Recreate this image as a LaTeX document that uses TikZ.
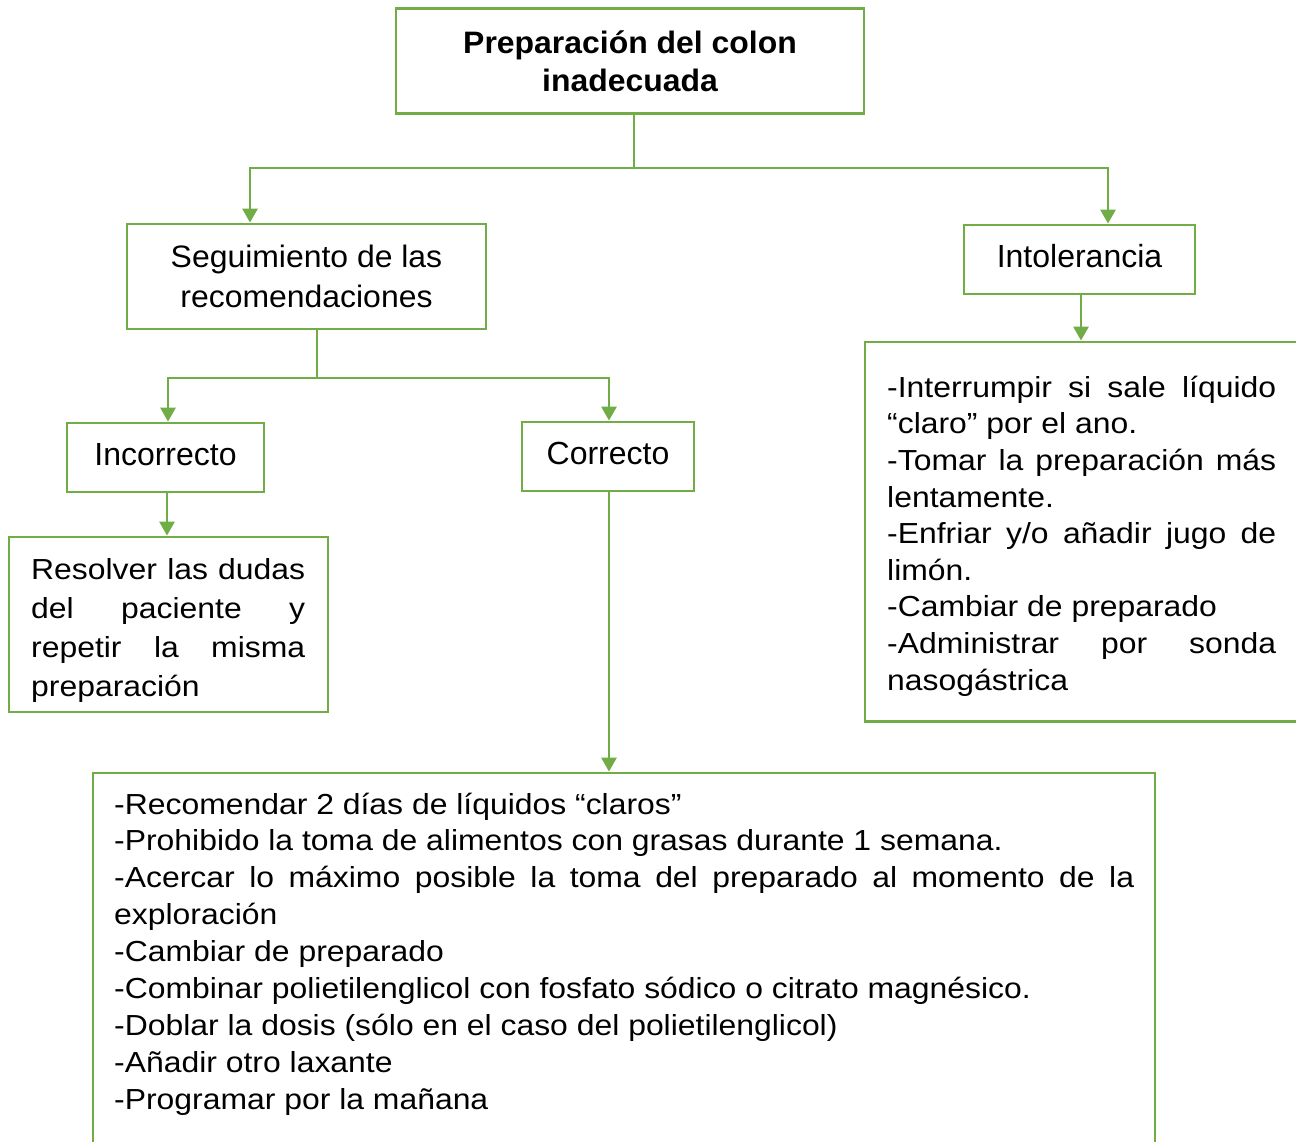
\documentclass[tikz,border=0pt]{standalone}
\usepackage{fontspec}
\setmainfont{Liberation Sans}
\newfontfamily\headfont{Liberation Sans}[FakeStretch=1.03]
\newfontfamily\listfont{Liberation Sans}[FakeStretch=1.1]
\usetikzlibrary{arrows.meta}
\definecolor{leaf}{HTML}{70AD47}
% one full-width line with its spaces stretched, and one set flush left
\newcommand\spreadline[1]{\makebox[\linewidth][s]{#1}\par}
\newcommand\plainline[1]{\makebox[\linewidth][l]{#1}\par}

\begin{document}
\begin{tikzpicture}[x=1pt,y=-1pt,
  box/.style={draw=leaf, line width=2.8pt, rectangle, inner sep=0pt,
    align=center, font=\fontsize{32}{38}\selectfont},
  onebox/.style={box, minimum height=69pt, text height=22pt, text depth=7pt},
  link/.style={draw=leaf, line width=2.8pt, line cap=rect},
  arr/.style={draw=leaf, line width=2.8pt, -{Triangle[length=14pt,width=15pt]}},
  listtext/.style={anchor=base west, inner sep=0pt},
]
\useasboundingbox (0,0) rectangle (1296,1142);
\clip (0,0) rectangle (1296,1142);

% boxes
\node[box, minimum width=468pt, minimum height=105pt,
      font=\fontsize{31}{38.4}\headfont\bfseries] (title) at (630,61)
  {Preparación del colon\\inadecuada};
\node[box, minimum width=359pt, minimum height=105pt,
      font=\fontsize{31}{39.3}\headfont] (seg) at (306.5,276.5)
  {Seguimiento de las\\recomendaciones};
\node[onebox, minimum width=231pt] (intol) at (1079.5,259.5) {Intolerancia};
\node[onebox, minimum width=197pt] (inc) at (165.5,457.5) {Incorrecto};
\node[onebox, minimum width=172pt] (cor) at (608,456.5) {Correcto};
\node[box, minimum width=319pt, minimum height=175pt] (resolvebox) at (168.5,624.5) {};
\node[box, minimum width=445pt, minimum height=379.5pt] (intollist) at (1087.5,531.75) {};
\node[box, minimum width=1062pt, minimum height=397pt] (corlist) at (624,971.5) {};

% texts of the list boxes
\node[listtext] (resolvetext) at (31,579.3) {\begin{minipage}[t]{274pt}
  \fontsize{29}{39.2}\listfont\parskip=0pt
  \spreadline{Resolver las dudas}
  \spreadline{del paciente y}
  \spreadline{repetir la misma}
  \plainline{preparación}
\end{minipage}};

\node[listtext] (intoltext) at (887,397.3) {\begin{minipage}[t]{389pt}
  \fontsize{29}{36.6}\listfont\parskip=0pt
  \spreadline{-Interrumpir si sale líquido}
  \plainline{“claro” por el ano.}
  \spreadline{-Tomar la preparación más}
  \plainline{lentamente.}
  \spreadline{-Enfriar y/o añadir jugo de}
  \plainline{limón.}
  \plainline{-Cambiar de preparado}
  \spreadline{-Administrar por sonda}
  \plainline{nasogástrica}
\end{minipage}};

\node[listtext] (cortext) at (114,814) {\begin{minipage}[t]{1020pt}
  \fontsize{29}{36.9}\listfont\parskip=0pt
  \plainline{-Recomendar 2 días de líquidos “claros”}
  \plainline{-Prohibido la toma de alimentos con grasas durante 1 semana.}
  \spreadline{-Acercar lo máximo posible la toma del preparado al momento de la}
  \plainline{exploración}
  \plainline{-Cambiar de preparado}
  \plainline{-Combinar polietilenglicol con fosfato sódico o citrato magnésico.}
  \plainline{-Doblar la dosis (sólo en el caso del polietilenglicol)}
  \plainline{-Añadir otro laxante}
  \plainline{-Programar por la mañana}
\end{minipage}};

% first branching
\coordinate (topjoin) at (634,168);
\coordinate (jl) at (250,168);
\coordinate (jr) at (1108,168);
\draw[link] (title.south -| topjoin) -- (topjoin);
\draw[link] (jl) -- (jr);
\draw[arr] (jl) -- (jl |- seg.north);
\draw[arr] (jr) -- (jr |- intol.north);

% second branching
\coordinate (midjoin) at (317,378);
\coordinate (kl) at (168,378);
\coordinate (kr) at (609,378);
\draw[link] (seg.south -| midjoin) -- (midjoin);
\draw[link] (kl) -- (kr);
\draw[arr] (kl) -- (kl |- inc.north);
\draw[arr] (kr) -- (kr |- cor.north);

% boxes to their lists
\draw[arr] ([xshift=1.5pt]inc.south) -- ([xshift=1.5pt]inc.south |- resolvebox.north);
\draw[arr] ([xshift=1pt]cor.south) -- ([xshift=1pt]cor.south |- corlist.north);
\draw[arr] ([xshift=1.5pt]intol.south) -- ([xshift=1.5pt]intol.south |- intollist.north);
\end{tikzpicture}
\end{document}
